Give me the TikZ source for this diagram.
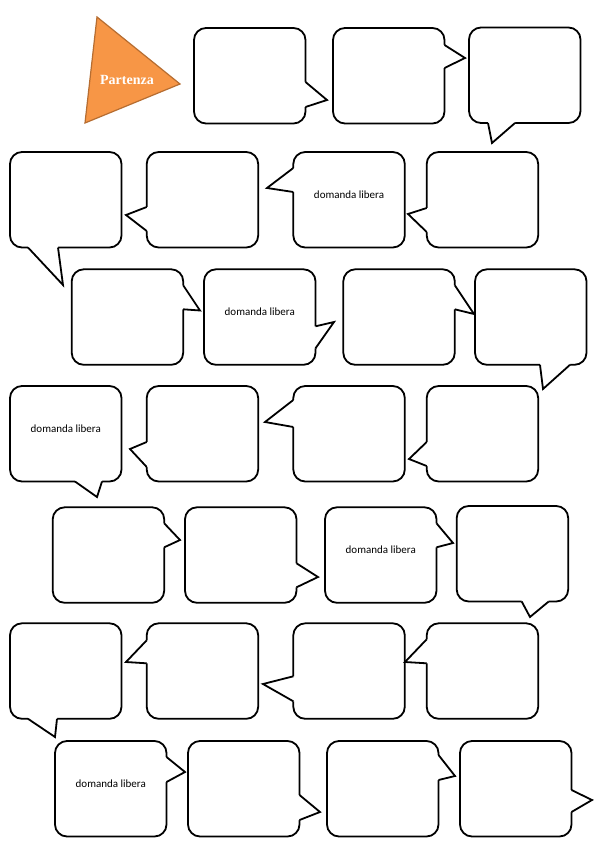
\documentclass[tikz,border=0pt]{standalone}
\usepackage{fontspec}
\setmainfont{Carlito}
\newfontfamily\startfont{Liberation Serif}
\usetikzlibrary{calc}
\definecolor{startorange}{HTML}{F79646}
\definecolor{startedge}{HTML}{B66D31}
\tikzset{
    bubble/.style={draw, line width=1.8pt, rounded corners=12pt, fill=white, anchor=north west,
        outer sep=0pt, inner sep=0pt, minimum width=111.5pt, minimum height=95.5pt},
    tailline/.style={line width=1.8pt},
    qtext/.style={font=\fontsize{11}{13}\selectfont, inner sep=1pt},
}
% tails: #1 box, #2 and #4 base offsets along the side, #3 tip
\newcommand\rtail[4]{%
    \fill[white] ($(#1.north east)+(-3,#2)$) -- ($(#1.north east)+(0,#2)$) -- (#3)
        -- ($(#1.north east)+(0,#4)$) -- ($(#1.north east)+(-3,#4)$) -- cycle;
    \draw[tailline] ($(#1.north east)+(0,#2)$) -- (#3) -- ($(#1.north east)+(0,#4)$);
}
\newcommand\ltail[4]{%
    \fill[white] ($(#1.north west)+(3,#2)$) -- ($(#1.north west)+(0,#2)$) -- (#3)
        -- ($(#1.north west)+(0,#4)$) -- ($(#1.north west)+(3,#4)$) -- cycle;
    \draw[tailline] ($(#1.north west)+(0,#2)$) -- (#3) -- ($(#1.north west)+(0,#4)$);
}
\newcommand\btail[4]{%
    \fill[white] ($(#1.south west)+(#2,-3)$) -- ($(#1.south west)+(#2,0)$) -- (#3)
        -- ($(#1.south west)+(#4,0)$) -- ($(#1.south west)+(#4,-3)$) -- cycle;
    \draw[tailline] ($(#1.south west)+(#2,0)$) -- (#3) -- ($(#1.south west)+(#4,0)$);
}
\begin{document}
\begin{tikzpicture}[x=1pt, y=-1pt]
    \useasboundingbox (0,0) rectangle (600,848);
    \fill[white] (0,0) rectangle (600,848);
    % start
    \filldraw[fill=startorange, draw=startedge, line width=1.2pt] (97,17) -- (180,84) -- (85,123) -- cycle;
    \node[text=white, font=\startfont\bfseries\fontsize{14}{16}\selectfont] (start) at (127,80) {Partenza};
    % boxes
    \foreach \n/\x/\y in {1/194/28, 2/333/28, 3/469/27.5,
        4/10/152, 5/146.7/152, 6/293.3/152, 7/426.7/152,
        8/71.7/269.3, 9/204/269.3, 10/343.3/269.3, 11/475/269.3,
        12/10/386, 13/146.7/386, 14/293.3/386, 15/426.7/386,
        16/52.7/507.3, 17/185/507.3, 18/325/507.3, 19/456.7/506,
        20/10/623.3, 21/146.7/623.3, 22/293.3/623.3, 23/426.7/623.3,
        24/55/741, 25/188/741, 26/327/741, 27/460/741} {
        \node[bubble] (b\n) at (\x,\y) {};
    }
    % tails
    \rtail{b1}{54}{327,100}{79}
    \rtail{b2}{17}{465,58}{40}
    \btail{b3}{19}{492,143}{46}
    \btail{b4}{18}{63,285}{48}
    \ltail{b5}{55}{126,215}{79}
    \ltail{b6}{16}{267,188}{40}
    \ltail{b7}{56}{408,214}{80}
    \rtail{b8}{16}{200,310.5}{40}
    \rtail{b9}{57}{334,322}{79}
    \rtail{b10}{16}{474,314}{40}
    \btail{b11}{65}{543,389}{95}
    \btail{b12}{65}{97,497}{92}
    \ltail{b13}{56}{130,449}{81}
    \ltail{b14}{14}{265,422}{41}
    \ltail{b15}{56}{409,459}{80}
    \rtail{b16}{16}{180,540}{40}
    \rtail{b17}{56}{318,577}{80}
    \rtail{b18}{16}{453,543}{40}
    \btail{b19}{65}{530,617}{92}
    \btail{b20}{18}{55,737}{47}
    \ltail{b21}{17}{126,662}{40}
    \ltail{b22}{53}{263,684}{78}
    \ltail{b23}{16}{405,662}{40}
    \rtail{b24}{16}{185,772}{41}
    \rtail{b25}{54}{320,812}{79}
    \rtail{b26}{14}{455,776}{39}
    \rtail{b27}{49}{592,800}{71}
    % free questions
    \foreach \n in {6,9,12,18,24} {
        \node[qtext] (q\n) at ([yshift=5pt]b\n.center) {domanda libera};
    }
\end{tikzpicture}
\end{document}
